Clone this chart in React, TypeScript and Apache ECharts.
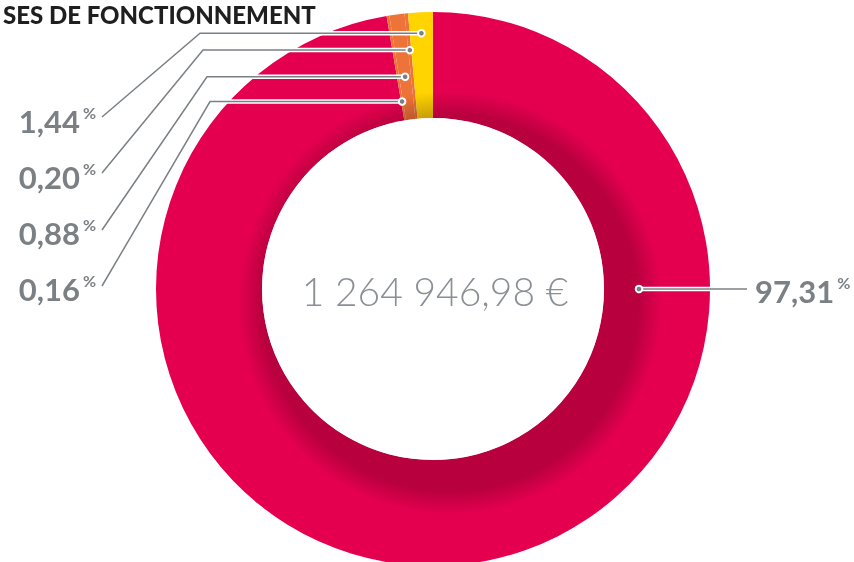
import React, { useEffect, useRef } from 'react';
import * as echarts from 'echarts';

// ---- data ----
const categories = ['Poste A', 'Poste B', 'Poste C', 'Poste D', 'Poste E'];
const shares = [97.31, 0.16, 0.88, 0.2, 1.44];
const sliceColors = ['#e5004f', '#ee7338', '#ee7338', '#ee7338', '#ffd400'];
const totalLabel = '1 264 946,98 €';
const titleText = 'SES DE FONCTIONNEMENT';

// ---- layout ----
const CX = 433;
const CY = 289;
const R_IN = 171;
const R_OUT = 277;
const dotRadii = [206, 190, 214, 240, 256];
const labelAnchors: [number, number, 'left' | 'right'][] = [
  [755, 291, 'left'],
  [96, 289, 'right'],
  [96, 233, 'right'],
  [96, 177, 'right'],
  [96, 121, 'right'],
];
const lineEnds = [
  [747, 289],
  [102, 286],
  [102, 230],
  [102, 173],
  [102, 117],
];
const elbowX = [0, 210, 207, 203, 200];
const GRAY = '#7b8085';

const total = shares.reduce((a, b) => a + b, 0);
const midAngles = (() => {
  let cum = 0;
  return shares.map((v, i) => {
    const m = ((cum + v / 2) / total) * 360;
    cum += v;
    return i === 0 ? 90 : m;
  });
})();

function dotPoint(i: number): [number, number] {
  const a = (midAngles[i] * Math.PI) / 180;
  const r = dotRadii[i];
  return [CX + r * Math.sin(a), CY - r * Math.cos(a)];
}

function fmt(v: number) {
  return v.toFixed(2).replace('.', ',');
}

const labelLayout = (params: any) => {
  const i = params.dataIndex;
  const d = dotPoint(i);
  const e = lineEnds[i];
  const elbow: [number, number] = i === 0 ? [(d[0] + e[0]) / 2, d[1]] : [elbowX[i], d[1]];
  const [x, y, align] = labelAnchors[i];
  return {
    x,
    y,
    align,
    verticalAlign: 'middle',
    hideOverlap: false,
    labelLinePoints: [d, elbow, e],
  };
};

const richStyles = (color: string) => ({
  v: {
    fontFamily: 'Lato',
    fontWeight: 'bold' as const,
    fontSize: 31,
    color,
    lineHeight: 34,
  },
  p: {
    fontFamily: 'Lato',
    fontWeight: 'bold' as const,
    fontSize: 16,
    color,
    verticalAlign: 'top' as const,
    lineHeight: 34,
    padding: [0, 0, 0, 3],
  },
});

const pieData = (transparent: boolean) =>
  shares.map((v, i) => ({
    name: categories[i],
    value: v,
    itemStyle: { color: transparent ? 'rgba(0,0,0,0)' : sliceColors[i], borderWidth: 0 },
  }));

export default function App() {
  const ref = useRef<HTMLDivElement>(null);
  useEffect(() => {
    if (!ref.current) return;
    const chart = echarts.init(ref.current, undefined, { renderer: 'svg' });
    const baseSeries = {
      type: 'pie' as const,
      center: [CX, CY],
      radius: [R_IN, R_OUT],
      startAngle: 90,
      clockwise: true,
      avoidLabelOverlap: false,
      silent: true,
      emphasis: { disabled: true },
      minAngle: 0,
    };
    chart.setOption({
      animation: false,
      series: [
        {
          ...baseSeries,
          z: 1,
          label: { show: false },
          labelLine: { show: false },
          data: pieData(false),
        },
        {
          ...baseSeries,
          z: 5,
          label: {
            show: true,
            position: 'outside',
            formatter: (p: any) => `{v|${fmt(shares[p.dataIndex])}}{p|%}`,
            rich: richStyles('rgba(0,0,0,0)'),
          },
          labelLine: { show: true, lineStyle: { color: '#ffffff', width: 4.5 } },
          labelLayout,
          data: pieData(true),
        },
        {
          ...baseSeries,
          z: 6,
          label: {
            show: true,
            position: 'outside',
            formatter: (p: any) => `{v|${fmt(shares[p.dataIndex])}}{p|%}`,
            rich: richStyles(GRAY),
          },
          labelLine: { show: true, lineStyle: { color: GRAY, width: 1.5 } },
          labelLayout,
          data: pieData(true),
        },
      ],
      graphic: [
        {
          type: 'circle',
          z: 3,
          silent: true,
          shape: { cx: 450, cy: 303, r: 212 },
          style: {
            fill: new echarts.graphic.RadialGradient(0.5, 0.5, 0.5, [
              { offset: 0, color: 'rgba(40,0,10,0.23)' },
              { offset: 0.89, color: 'rgba(40,0,10,0.23)' },
              { offset: 1, color: 'rgba(40,0,10,0)' },
            ]),
          },
        },
        {
          type: 'circle',
          z: 4,
          silent: true,
          shape: { cx: CX, cy: CY, r: R_IN },
          style: { fill: '#ffffff' },
        },
        {
          type: 'text',
          z: 4,
          silent: true,
          x: 435,
          y: 291,
          style: {
            text: totalLabel,
            fontFamily: 'Lato',
            fontWeight: 300,
            fontSize: 39,
            fill: '#8a9096',
            align: 'center',
            verticalAlign: 'middle',
          },
        },
        {
          type: 'text',
          z: 4,
          silent: true,
          x: 3,
          y: 2,
          style: {
            text: titleText,
            fontFamily: 'Lato',
            fontWeight: 900,
            fontSize: 24,
            fill: '#1f1f1f',
            align: 'left',
            verticalAlign: 'top',
          },
        },
        ...shares.map((_, i) => {
          const [x, y] = dotPoint(i);
          return {
            type: 'circle' as const,
            z: 10,
            silent: true,
            shape: { cx: x, cy: y, r: 3.3 },
            style: { fill: GRAY, stroke: '#ffffff', lineWidth: 2 },
          };
        }),
      ],
    });
    return () => chart.dispose();
  }, []);
  return (
    <div
      ref={ref}
      style={{ position: 'fixed', left: 0, top: 0, width: 854, height: 562 }}
    />
  );
}
